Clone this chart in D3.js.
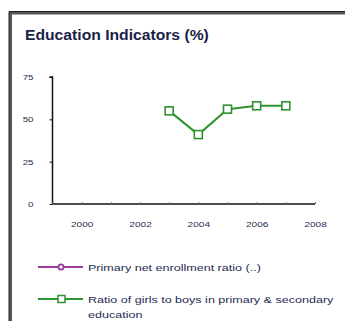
<!DOCTYPE html>
<html>
<head>
<meta charset="utf-8">
<script src="https://cdn.jsdelivr.net/npm/d3@7"></script>
<style>
  html, body { margin: 0; padding: 0; background: #fff; }
  svg { display: block; font-family: Arial, "Liberation Sans", sans-serif; }
</style>
</head>
<body>
<svg id="chart" width="345" height="321"></svg>
<script>
// Series data
const years = [2003, 2004, 2005, 2006, 2007];
const girlsToBoys = [55, 41, 56, 58, 58];
const enrollment = []; // no values reported
const yTicks = [0, 25, 50, 75];
const xLabels = [2000, 2002, 2004, 2006, 2008];
const legendLabels = [
  ["Primary net enrollment ratio (..)"],
  ["Ratio of girls to boys in primary & secondary", "education"]
];
const colors = { enrollment: "#9a3c9e", girls: "#2e922e" };
const textColor = "#262b52";

const svg = d3.select("#chart");

// Wide-set lettering: stretch each text run to a width proportional to its length
function widen(sel, factor) {
  sel.each(function () {
    const len = this.getComputedTextLength();
    if (len > 0) d3.select(this).attr("textLength", len * factor).attr("lengthAdjust", "spacingAndGlyphs");
  });
}

// Panel frame
svg.append("path")
  .attr("d", "M10.5,321 V13 H345")
  .attr("fill", "none").attr("stroke", "#555").attr("stroke-width", 3);
svg.append("path")
  .attr("d", "M9,321 V11.5 H345")
  .attr("fill", "none").attr("stroke", "#222").attr("stroke-width", 1);

const title = svg.append("text")
  .attr("x", 25).attr("y", 40)
  .attr("font-size", 14).attr("font-weight", "bold")
  .attr("fill", "#1c1f4a")
  .text("Education Indicators (%)");
widen(title, 1.12);

const x = d3.scaleLinear().domain([1999, 2008]).range([52.5, 315]);
const y = d3.scaleLinear().domain([0, 75]).range([204, 77]);

// Y axis: vertical line with ticks, labels to the left
const yAxis = svg.append("g").attr("transform", "translate(52.5,0)")
  .call(d3.axisLeft(y).tickValues(yTicks).tickSize(3).tickPadding(16).tickFormat(d3.format("d")));
yAxis.select(".domain").attr("d", `M-3,${y(75)}H0V${y(0)}`).attr("stroke", "#111").attr("stroke-width", 1.5);
yAxis.selectAll(".tick line").attr("stroke", "#111");
yAxis.selectAll("text").attr("font-size", 7.5).attr("fill", textColor).attr("font-family", "Arial, sans-serif");
widen(yAxis.selectAll("text"), 1.3);

// X axis: yearly ticks, labels every two years
const xAxis = svg.append("g").attr("transform", `translate(0,${y(0)})`)
  .call(d3.axisBottom(x).tickValues(d3.range(1999, 2009)).tickSize(-2).tickPadding(18)
    .tickFormat(d => xLabels.includes(d) ? d : ""));
xAxis.select(".domain").attr("d", `M${x(1999)},0H${x(2008)}`).attr("stroke", "#111").attr("stroke-width", 1.5);
xAxis.selectAll(".tick line").attr("stroke", "#777");
xAxis.selectAll("text").attr("font-size", 7.5).attr("fill", textColor).attr("font-family", "Arial, sans-serif");
widen(xAxis.selectAll("text"), 1.35);

// Ratio of girls to boys series
const pts = years.map((yr, i) => [yr, girlsToBoys[i]]);
svg.append("path")
  .datum(pts)
  .attr("fill", "none").attr("stroke", colors.girls).attr("stroke-width", 2)
  .attr("d", d3.line().x(d => x(d[0])).y(d => y(d[1])));
svg.selectAll("rect.pt").data(pts).enter().append("rect")
  .attr("class", "pt")
  .attr("x", d => x(d[0]) - 4).attr("y", d => y(d[1]) - 4)
  .attr("width", 8).attr("height", 8)
  .attr("fill", "#fff").attr("stroke", colors.girls).attr("stroke-width", 1.6);

// Legend
const legend = svg.append("g");
const rows = [
  { y: 267, color: colors.enrollment, marker: "circle", lines: legendLabels[0] },
  { y: 299, color: colors.girls, marker: "square", lines: legendLabels[1] }
];
rows.forEach(r => {
  legend.append("line").attr("x1", 38).attr("x2", 83).attr("y1", r.y).attr("y2", r.y)
    .attr("stroke", r.color).attr("stroke-width", 1.8);
  if (r.marker === "circle") {
    legend.append("circle").attr("cx", 61).attr("cy", r.y).attr("r", 2.6)
      .attr("fill", "#fff").attr("stroke", r.color).attr("stroke-width", 1.8);
  } else {
    legend.append("rect").attr("x", 58).attr("y", r.y - 3.5).attr("width", 7).attr("height", 7)
      .attr("fill", "#fff").attr("stroke", r.color).attr("stroke-width", 1.5);
  }
  r.lines.forEach((t, i) => {
    const txt = legend.append("text").attr("x", 88).attr("y", r.y + 3.5 + i * 15)
      .attr("font-size", 9.5).attr("fill", textColor).text(t);
    widen(txt, 1.32);
  });
});
</script>
</body>
</html>
